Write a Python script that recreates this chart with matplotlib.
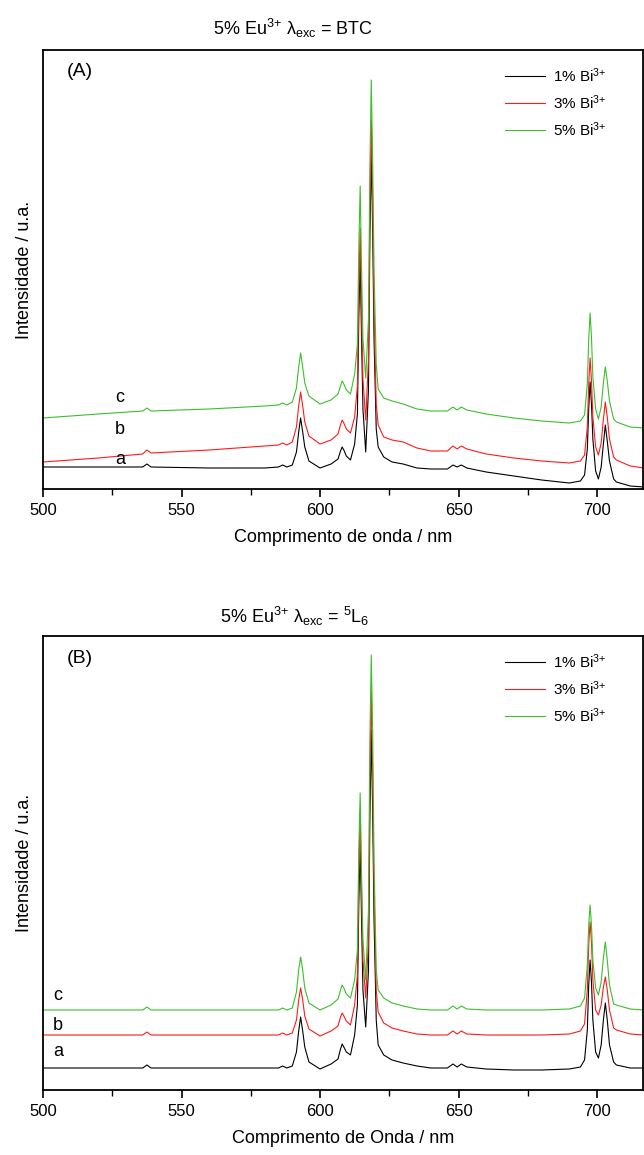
import matplotlib
matplotlib.use('Agg')
import matplotlib.pyplot as plt
from matplotlib.ticker import MultipleLocator

plt.rcParams['font.family'] = ['Liberation Sans', 'DejaVu Sans']
plt.rcParams['mathtext.fontset'] = 'custom'
plt.rcParams['mathtext.rm'] = 'Liberation Sans'
plt.rcParams['mathtext.it'] = 'Liberation Sans'

# comprimento de onda (nm), comum a todas as curvas
wl = [500, 520, 536, 537.5, 539, 560, 580, 585, 586.5, 588, 590,
      591.5, 592.3, 593, 593.7, 594.5, 596,
      600, 604, 606.5, 607.4, 608, 608.6, 609.5, 611,
      612.5, 613.5, 614, 614.5, 615, 615.5, 616.5, 617.5, 618, 618.5, 619, 619.5, 620.3, 621,
      623, 626, 630, 635, 640, 646, 648, 649.5, 651, 653, 660, 670, 680, 690,
      694, 695.5, 696.5, 697, 697.5, 698, 698.5, 699.5, 700.5, 701.5, 702.3, 703, 703.7,
      704.5, 706, 707, 712, 717]

# (A) excitacao BTC
a_bi1 = [22, 22, 22, 25, 22, 21, 21, 22, 24, 22, 24,
         37, 57, 71, 58, 42, 28,
         21, 25, 30, 38, 42, 39, 33, 29,
         45, 75, 170, 231, 150, 80, 37, 100, 250, 339, 260, 150, 60, 42,
         32, 27, 25, 21, 20, 20, 24, 22, 24, 21, 17, 13, 9, 6,
         8, 14, 40, 80, 107, 85, 50, 18, 10, 22, 45, 64, 48, 28, 10, 7, 3, 2]
a_bi3 = [27, 31, 35, 39, 36, 39, 43, 44, 46, 44, 47,
         62, 83, 97, 84, 67, 53,
         45, 49, 55, 64, 69, 66, 60, 56,
         72, 103, 200, 261, 180, 110, 69, 130, 280, 369, 290, 180, 85, 64,
         52, 49, 47, 41, 38, 38, 43, 40, 43, 40, 35, 31, 28, 26,
         28, 34, 62, 105, 131, 108, 72, 42, 34, 46, 70, 87, 72, 50, 32, 29, 23, 21]
a_bi5 = [71, 75, 78, 81, 78, 80, 83, 84, 86, 84, 87,
         101, 122, 136, 123, 106, 93,
         85, 89, 95, 103, 108, 105, 99, 95,
         115, 145, 240, 303, 220, 150, 111, 170, 320, 409, 330, 220, 125, 100,
         91, 88, 85, 80, 78, 78, 82, 79, 82, 79, 75, 71, 68, 66,
         68, 74, 105, 150, 176, 152, 112, 80, 70, 82, 106, 122, 108, 88, 70, 67, 62, 61]

# (B) excitacao 5L6
b_bi1 = [22, 22, 22, 25, 22, 22, 22, 22, 24, 22, 24,
         38, 59, 73, 60, 43, 28,
         21, 26, 31, 41, 46, 43, 38, 35,
         55, 85, 185, 247, 170, 100, 63, 120, 270, 360, 280, 170, 70, 45,
         35, 30, 27, 24, 22, 22, 26, 23, 26, 23, 21, 20, 20, 21,
         23, 30, 60, 105, 130, 108, 70, 38, 32, 45, 70, 87, 70, 45, 28, 25, 22, 22]
b_bi3 = [55, 55, 55, 58, 55, 55, 55, 55, 57, 55, 57,
         70, 90, 102, 91, 74, 61,
         54, 59, 64, 73, 77, 74, 69, 65,
         85, 115, 215, 277, 200, 130, 92, 150, 310, 400, 320, 200, 100, 78,
         67, 62, 59, 56, 55, 55, 59, 56, 59, 56, 55, 55, 55, 56,
         59, 66, 100, 145, 168, 148, 110, 80, 75, 85, 103, 113, 100, 80, 62, 60, 56, 55]
b_bi5 = [80, 80, 80, 83, 80, 80, 80, 80, 82, 80, 82,
         98, 120, 133, 121, 102, 87,
         80, 85, 91, 100, 105, 102, 96, 92,
         110, 140, 240, 297, 215, 150, 110, 180, 350, 435, 360, 230, 120, 100,
         92, 87, 84, 81, 80, 80, 84, 81, 84, 81, 80, 80, 80, 81,
         84, 92, 125, 165, 185, 165, 130, 102, 95, 108, 132, 148, 130, 105, 86, 85, 81, 80]

labels = ['1% Bi$^{3{+}}$', '3% Bi$^{3{+}}$', '5% Bi$^{3{+}}$']
cores = ['#000000', '#ff1a1a', '#3cbf2a']

fig = plt.figure(figsize=(6.44, 11.55), dpi=100)
axA = fig.add_axes([43/644, 666/1155, 600/644, 439/1155])
axB = fig.add_axes([43/644, 65/1155, 600/644, 454/1155])

paineis = [
    (axA, [a_bi1, a_bi3, a_bi5], 439, '(A)', 'Comprimento de onda / nm',
     [(527.8, 29), (527.8, 59), (527.8, 91)]),
    (axB, [b_bi1, b_bi3, b_bi5], 454, '(B)', 'Comprimento de Onda / nm',
     [(505.5, 38), (505.5, 65), (505.5, 95)]),
]

for ax, series, ytop, tag, xlab, pos_abc in paineis:
    for s, c, lab in zip(series, cores, labels):
        ax.plot(wl, s, color=c, lw=0.8, label=lab)
    ax.set_xlim(500, 716.6)
    ax.set_ylim(0, ytop)
    ax.set_yticks([])
    ax.xaxis.set_major_locator(MultipleLocator(50))
    ax.xaxis.set_minor_locator(MultipleLocator(25))
    ax.tick_params(axis='x', which='major', direction='out', length=6, width=1.2,
                   labelsize=12, pad=4)
    ax.tick_params(axis='x', which='minor', direction='out', length=4, width=1.0)
    for sp in ax.spines.values():
        sp.set_linewidth(1.3)
    ax.set_xlabel(xlab, fontsize=13, labelpad=8)
    ax.set_ylabel('Intensidade / u.a.', fontsize=13, labelpad=7)
    ax.text(0.04, 0.95, tag, transform=ax.transAxes, fontsize=14, va='center')
    for (x, y), letra in zip(pos_abc, ['a', 'b', 'c']):
        ax.text(x, y, letra, fontsize=13, ha='center', va='center')
    ax.legend(loc='upper right', bbox_to_anchor=(0.962, 0.995), frameon=False,
              fontsize=11, handlelength=2.6, labelspacing=0.55, handletextpad=0.5)

fig.text(293/644, 1 - 28/1155, '5% Eu$^{3{+}}$ λ$_{\\rm exc}$ = BTC', fontsize=13,
         ha='center', va='center')
fig.text(295/644, 1 - 616/1155, '5% Eu$^{3{+}}$ λ$_{\\rm exc}$ = $^{5}$L$_{6}$', fontsize=13,
         ha='center', va='center')

fig.savefig('out.png', dpi=100)
